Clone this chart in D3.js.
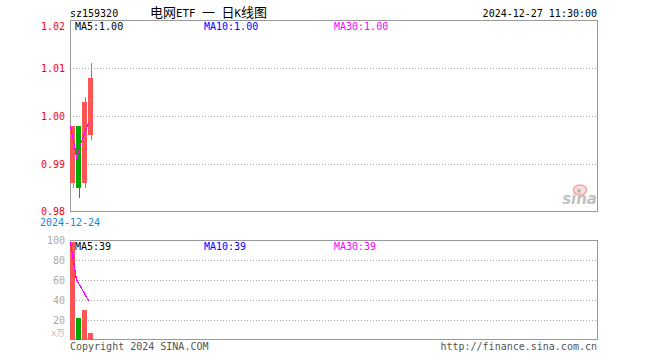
<!DOCTYPE html>
<html>
<head>
<meta charset="utf-8">
<script src="https://cdn.jsdelivr.net/npm/d3@7/dist/d3.min.js"></script>
<style>
  html, body { margin: 0; padding: 0; background: #fff; }
  svg { display: block; }
  text { font-family: "DejaVu Sans Mono", "Liberation Mono", monospace; font-size: 10px; }
</style>
</head>
<body>
<svg id="chart" width="660" height="360"></svg>
<script>
// ---- data ----
const symbol = "sz159320";
const title = "电网ETF 一 日K线图";
const timestamp = "2024-12-27 11:30:00";
const dates = ["2024-12-24", "2024-12-25", "2024-12-26", "2024-12-27"];
const openP  = [0.986, 0.998, 0.986, 0.996];
const closeP = [0.998, 0.985, 1.003, 1.008];
const highP  = [0.998, 0.998, 1.004, 1.011];
const lowP   = [0.985, 0.983, 0.985, 0.995];
const volume = [98, 22, 30, 7];           // 万
const priceTicks = [1.02, 1.01, 1.00, 0.99, 0.98];
const volTicks = [100, 80, 60, 40, 20];
const volUnit = "x万";
const slotCount = 88;

// ---- layout ----
const L = 70, R = 598;
const mainTop = 20, mainBot = 212;
const volTop = 240, volBot = 340;
const RED = "#ff5555", GREEN = "#00aa00";
const MA_COLORS = {5: "#000000", 10: "#0000ff", 30: "#ff00ff"};

const svg = d3.select("#chart");

const x = d3.scaleBand().domain(d3.range(slotCount)).range([L, R]).paddingInner(1/6).paddingOuter(0).align(0);
const y = d3.scaleLinear().domain([0.98, 1.02]).range([mainBot, mainTop]);
const yv = d3.scaleLinear().domain([0, 100]).range([volBot, volTop]);

function ma(arr, n) {
  return arr.map((_, i) => d3.mean(arr.slice(Math.max(0, i - n + 1), i + 1)));
}

const data = dates.map((d, i) => ({i, date: d, o: openP[i], c: closeP[i], h: highP[i], l: lowP[i], v: volume[i]}));
const col = d => d.c >= d.o ? RED : GREEN;

// ---- grid ----
const grid = svg.append("g");
priceTicks.slice(1, -1).forEach(t => {
  grid.append("line").attr("x1", L).attr("x2", R).attr("y1", Math.round(y(t)) + 0.5).attr("y2", Math.round(y(t)) + 0.5)
    .attr("stroke", "#aaaaaa").attr("stroke-dasharray", "1,2");
});
volTicks.slice(1).forEach(t => {
  grid.append("line").attr("x1", L).attr("x2", R).attr("y1", Math.round(yv(t)) + 0.5).attr("y2", Math.round(yv(t)) + 0.5)
    .attr("stroke", "#aaaaaa").attr("stroke-dasharray", "1,2");
});

// ---- frames ----
svg.append("rect").attr("x", L + 0.5).attr("y", mainTop + 0.5).attr("width", R - L - 1).attr("height", mainBot - mainTop - 1)
  .attr("fill", "none").attr("stroke", "#999999");
svg.append("rect").attr("x", L + 0.5).attr("y", volTop + 0.5).attr("width", R - L - 1).attr("height", volBot - volTop - 1)
  .attr("fill", "none").attr("stroke", "#999999");

// ---- axes ----
const ya = svg.append("g").attr("transform", `translate(${L},0)`)
  .call(d3.axisLeft(y).tickValues(priceTicks).tickSize(0).tickPadding(5).tickFormat(d3.format(".2f")));
ya.select(".domain").remove();
ya.selectAll("text").attr("fill", "#ff0000").style("font-family", "DejaVu Sans Mono").style("font-size", "10px");
ya.selectAll(".tick").filter(d => d === 1.02).select("text").attr("dy", "0.9em");
ya.selectAll(".tick").filter(d => d === 0.98).select("text").attr("dy", "0.2em");

const va = svg.append("g").attr("transform", `translate(${L},0)`)
  .call(d3.axisLeft(yv).tickValues(volTicks).tickSize(0).tickPadding(5));
va.select(".domain").remove();
va.selectAll("text").attr("fill", "#aaaaaa").style("font-family", "DejaVu Sans Mono").style("font-size", "10px");

svg.append("text").attr("x", L - 5).attr("y", volBot - 4).attr("text-anchor", "end")
  .attr("fill", "#bbbbbb").style("font-family", "Noto Sans CJK SC").style("font-size", "9px").text(volUnit);

// date label
svg.append("text").attr("x", x(0)).attr("y", 226).attr("text-anchor", "middle")
  .attr("fill", "#1188dd").text(dates[0]);

// ---- candles ----
const cg = svg.append("g").attr("shape-rendering", "crispEdges");
const bw = x.bandwidth();
cg.selectAll("line.wick").data(data).join("line")
  .attr("x1", d => Math.round(x(d.i) + bw / 2) + 0.5).attr("x2", d => Math.round(x(d.i) + bw / 2) + 0.5)
  .attr("y1", d => y(d.h)).attr("y2", d => y(d.l)).attr("stroke", col);
cg.selectAll("rect.body").data(data).join("rect")
  .attr("x", d => x(d.i)).attr("width", bw)
  .attr("y", d => y(Math.max(d.o, d.c))).attr("height", d => Math.max(1, Math.abs(y(d.o) - y(d.c))))
  .attr("fill", col);

// MA lines price
[5, 10, 30].forEach(n => {
  const m = ma(closeP, n);
  svg.append("path").datum(m)
    .attr("d", d3.line().x((_, i) => x(i) + 0.5).y(v => y(v)))
    .attr("fill", "none").attr("stroke", MA_COLORS[n]).attr("stroke-width", 1.2)
    .attr("shape-rendering", "crispEdges");
});

// ---- volume bars ----
svg.append("g").attr("shape-rendering", "crispEdges").selectAll("rect").data(data).join("rect")
  .attr("x", d => x(d.i)).attr("width", bw)
  .attr("y", d => yv(d.v)).attr("height", d => yv(0) - yv(d.v))
  .attr("fill", col);

[5, 10, 30].forEach(n => {
  const m = ma(volume, n);
  svg.append("path").datum(m)
    .attr("d", d3.line().x((_, i) => x(i) + 0.5).y(v => yv(v)))
    .attr("fill", "none").attr("stroke", MA_COLORS[n]).attr("stroke-width", 1.2)
    .attr("shape-rendering", "crispEdges");
});

// ---- MA labels ----
const lastMA = (arr, n) => ma(arr, n)[arr.length - 1];
const labelX = {5: 75, 10: 204, 30: 334};
[5, 10, 30].forEach(n => {
  svg.append("text").attr("x", labelX[n]).attr("y", 30).attr("fill", MA_COLORS[n])
    .text(`MA${n}:${d3.format(".2f")(lastMA(closeP, n))}`);
  svg.append("text").attr("x", labelX[n]).attr("y", 250).attr("fill", MA_COLORS[n])
    .text(`MA${n}:${Math.round(lastMA(volume, n))}`);
});

// ---- header ----
svg.append("text").attr("x", L).attr("y", 16.5).attr("fill", "#000").text(symbol);
// title laid out as full-width CJK (13px) + half-width latin (6.5px) cells
const isWide = ch => /[\u3000-\u9fff]/.test(ch);
const tt = svg.append("text").attr("y", 17).attr("fill", "#000");
let cx = 150;
Array.from(title).forEach(ch => {
  const wide = isWide(ch);
  if (ch !== " ") {
    tt.append("tspan").attr("x", cx)
      .style("font-family", wide ? "Noto Sans CJK SC" : "DejaVu Sans Mono")
      .style("font-size", wide ? "13px" : "10.8px")
      .text(ch);
  }
  cx += wide ? 13 : 6.5;
});
svg.append("text").attr("x", R - 1).attr("y", 16.5).attr("text-anchor", "end").attr("fill", "#000").text(timestamp);

// ---- footer ----
svg.append("text").attr("x", L).attr("y", 349.5).attr("fill", "#555").text("Copyright 2024 SINA.COM");
svg.append("text").attr("x", R - 1).attr("y", 349.5).attr("text-anchor", "end").attr("fill", "#555").text("http://finance.sina.com.cn");

// ---- sina watermark ----
const wm = svg.append("g").attr("opacity", 0.6);
wm.append("text").attr("x", 597).attr("y", 204).attr("text-anchor", "end")
  .attr("fill", "#999").style("font-family", "DejaVu Sans").style("font-size", "15px")
  .style("font-weight", "bold").style("font-style", "italic").text("sina");
wm.append("ellipse").attr("cx", 580).attr("cy", 190).attr("rx", 6.5).attr("ry", 5)
  .attr("fill", "#f8c8c8").attr("stroke", "#ee6666").attr("stroke-width", 1.5);
wm.append("circle").attr("cx", 579).attr("cy", 191).attr("r", 2).attr("fill", "#888");
</script>
</body>
</html>
